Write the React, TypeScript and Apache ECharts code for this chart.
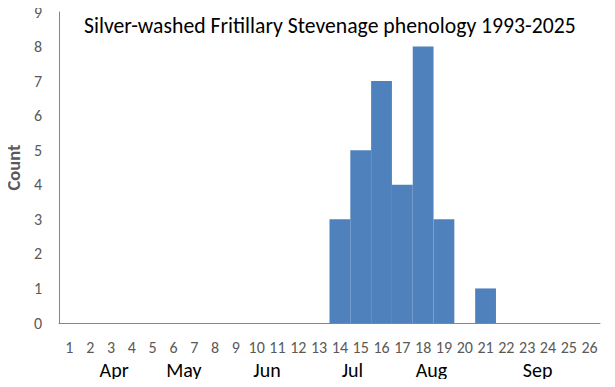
import React, { useEffect, useRef } from "react";
import * as echarts from "echarts";

const weeks = Array.from({ length: 26 }, (_, i) => String(i + 1));
const counts = [0, 0, 0, 0, 0, 0, 0, 0, 0, 0, 0, 0, 0, 3, 5, 7, 4, 8, 3, 0, 1, 0, 0, 0, 0, 0];
const months = ["Apr", "May", "Jun", "Jul", "Aug", "Sep"];
const monthWeekPos = [2.65, 6.0, 10.0, 14.1, 17.9, 23.0];
const titleText = "Silver-washed Fritillary Stevenage phenology 1993-2025";
const yAxisName = "Count";

const FONT = "Carlito, 'Open Sans', sans-serif";

export default function App() {
  const ref = useRef<HTMLDivElement>(null);
  useEffect(() => {
    if (!ref.current) return;
    const chart = echarts.init(ref.current, null, { renderer: "svg" });
    chart.setOption({
      animation: false,
      backgroundColor: "#ffffff",
      title: {
        text: titleText,
        left: 79,
        top: 9,
        textStyle: { fontFamily: FONT, fontSize: 21.7, fontWeight: "normal", color: "#000000" },
      },
      grid: { left: 59, right: 15, top: 12, bottom: 64, containLabel: false, outerBoundsMode: "none" },
      xAxis: [
        {
          type: "category",
          data: weeks,
          axisLine: { lineStyle: { color: "#868686", width: 1 } },
          axisTick: { show: false },
          axisLabel: { color: "#595959", fontFamily: FONT, fontSize: 16, margin: 16, interval: 0 },
        },
        { type: "value", min: 0, max: 26, show: false },
      ],
      yAxis: {
        type: "value",
        min: 0,
        max: 9,
        interval: 1,
        name: yAxisName,
        nameLocation: "middle",
        nameGap: 36,
        nameTextStyle: { color: "#595959", fontFamily: FONT, fontSize: 18.5, fontWeight: "bold" },
        axisLine: { show: true, lineStyle: { color: "#868686", width: 1 } },
        axisTick: { show: false },
        splitLine: { show: false },
        axisLabel: { color: "#595959", fontFamily: FONT, fontSize: 16, margin: 17 },
      },
      series: [
        {
          type: "bar",
          data: counts,
          barCategoryGap: "0%",
          itemStyle: { color: "#4F81BD" },
          xAxisIndex: 0,
        },
      ],
    });
    const yPix = 370;
    const graphic = months.map((m, i) => {
      const x = chart.convertToPixel({ xAxisIndex: 1 }, monthWeekPos[i]) as number;
      return {
        type: "text",
        x,
        y: yPix,
        style: {
          text: m,
          fontFamily: FONT,
          fontSize: 20,
          fill: "#000000",
          align: "center",
          verticalAlign: "middle",
        },
      };
    });
    chart.setOption({ graphic });
    return () => chart.dispose();
  }, []);
  return <div ref={ref} style={{ width: 615, height: 387, margin: -8 }} />;
}
